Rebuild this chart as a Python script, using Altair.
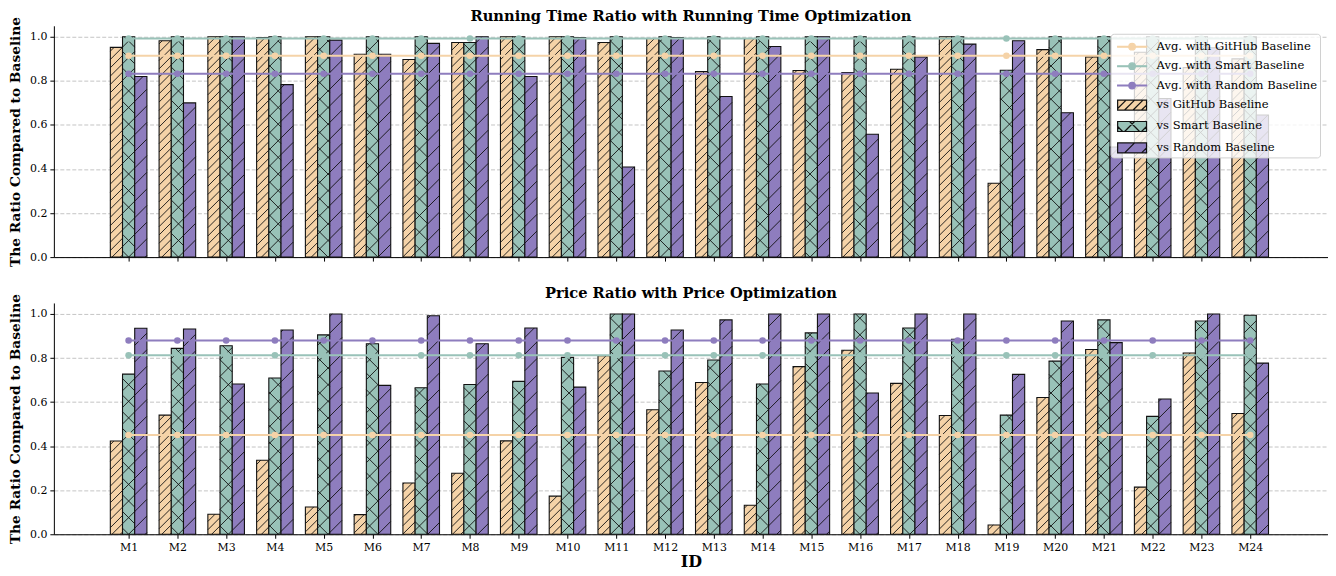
import altair as alt
import pandas as pd

# ---------------- data ----------------
ids = ["M1", "M2", "M3", "M4", "M5", "M6", "M7", "M8", "M9", "M10", "M11", "M12",
       "M13", "M14", "M15", "M16", "M17", "M18", "M19", "M20", "M21", "M22", "M23", "M24"]
series_names = ["GitHub", "Smart", "Random"]

rt_github = [0.952, 0.982, 1.0, 0.997, 1.0, 0.921, 0.897, 0.974, 1.0, 1.0, 0.974, 0.992,
             0.842, 0.992, 0.847, 0.838, 0.853, 1.0, 0.335, 0.942, 0.909, 0.93, 0.86, 0.90]
rt_smart = [1.0, 1.0, 1.0, 1.0, 1.0, 1.0, 1.0, 0.974, 1.0, 1.0, 1.0, 1.0,
            1.0, 1.0, 1.0, 1.0, 1.0, 1.0, 0.848, 1.0, 1.0, 1.0, 1.0, 1.0]
rt_random = [0.82, 0.70, 1.0, 0.783, 0.985, 0.921, 0.97, 1.0, 0.82, 0.997, 0.409, 0.997,
             0.729, 0.956, 1.0, 0.558, 0.909, 0.967, 0.982, 0.655, 0.50, 0.72, 0.95, 0.645]

pr_github = [0.423, 0.541, 0.091, 0.336, 0.124, 0.089, 0.233, 0.277, 0.424, 0.173, 0.811, 0.565,
             0.689, 0.132, 0.761, 0.835, 0.685, 0.539, 0.042, 0.621, 0.839, 0.214, 0.823, 0.548]
pr_smart = [0.727, 0.844, 0.856, 0.709, 0.905, 0.865, 0.665, 0.680, 0.694, 0.803, 1.0, 0.741,
            0.791, 0.682, 0.914, 1.0, 0.936, 0.885, 0.541, 0.786, 0.973, 0.535, 0.968, 0.994]
pr_random = [0.935, 0.932, 0.682, 0.927, 1.0, 0.676, 0.992, 0.865, 0.936, 0.668, 1.0, 0.927,
             0.973, 1.0, 1.0, 0.641, 1.0, 1.0, 0.726, 0.968, 0.870, 0.614, 1.0, 0.777]

legend_keys = ["Avg. with GitHub Baseline", "Avg. with Smart Baseline", "Avg. with Random Baseline",
               "vs GitHub Baseline", "vs Smart Baseline", "vs Random Baseline"]
y_ticks = [0.0, 0.2, 0.4, 0.6, 0.8, 1.0]


def long_table(g, s, r):
    rows = []
    for i, name in enumerate(ids):
        for ser, vals in zip(series_names, (g, s, r)):
            rows.append({"idx": i, "id": name, "series": ser, "value": vals[i]})
    return pd.DataFrame(rows)


df_rt = long_table(rt_github, rt_smart, rt_random)
df_pr = long_table(pr_github, pr_smart, pr_random)

# ---------------- style ----------------
FONT = "DejaVu Serif"
C_GH, C_SM, C_RD = "#F5D3A8", "#99C2B8", "#8E7DBE"
W, H = 1278, 232
XDOM = [-1.533, 24.595]
YDOM = [0.0, 1.05]
PX = W / (XDOM[1] - XDOM[0])
PY = H / (YDOM[1] - YDOM[0])
COLOR_EXPR = (f"datum.series === 'GitHub' ? '{C_GH}' : "
              f"datum.series === 'Smart' ? '{C_SM}' : '{C_RD}'")
XC_EXPR = "datum.idx + (indexof(['GitHub','Smart','Random'], datum.series) - 1) * 0.25"

xscale = alt.Scale(domain=XDOM, nice=False, zero=False)
yscale = alt.Scale(domain=YDOM, nice=False, zero=False)

label_arr = "[" + ",".join(f"'{t}'" for t in ids) + "]"


def x_axis(bottom):
    if bottom:
        return alt.Axis(values=list(range(len(ids))), labelExpr=f"{label_arr}[datum.value]",
                        title="ID", grid=False, tickSize=4, labelPadding=3,
                        titleFontSize=16, titlePadding=1, labelFontSize=11)
    return alt.Axis(values=list(range(len(ids))), labels=False, title=None, grid=False, tickSize=4)


y_axis = alt.Axis(values=y_ticks, format=".1f", title="The Ratio Compared to Baseline",
                  grid=True, tickSize=4, labelPadding=3, titlePadding=7)


def hatch_line_path(x0, x1, y0, y1, spacing, direction):
    segs = []
    if direction == "/":
        c = x0 + y0
        while c <= x1 + y1:
            xa, xb = max(x0, c - y1), min(x1, c - y0)
            if xb - xa > 0.05:
                segs.append(f"M{xa:.3f},{c - xa:.3f}L{xb:.3f},{c - xb:.3f}")
            c += spacing
    else:
        c = y0 - x1
        while c <= y1 - x0:
            xa, xb = max(x0, y0 - c), min(x1, y1 - c)
            if xb - xa > 0.05:
                segs.append(f"M{xa:.3f},{xa + c:.3f}L{xb:.3f},{xb + c:.3f}")
            c += spacing
    return "".join(segs)


SX0, SX1 = -0.6, 2.3
rect_path = f"M{SX0},-0.5L{SX1},-0.5L{SX1},0.5L{SX0},0.5Z"
cx = (SX0 + SX1) / 2
r = 0.33
line_path = (f"M{SX0},-0.04L{SX1},-0.04L{SX1},0.04L{SX0},0.04Z"
             f"M{cx + r:.3f},0A{r},{r} 0 1,1 {cx - r:.3f},0A{r},{r} 0 1,1 {cx + r:.3f},0Z")
gh_patch = rect_path + hatch_line_path(SX0, SX1, -0.5, 0.5, 0.85, "/")
sm_patch = rect_path + hatch_line_path(SX0, SX1, -0.5, 0.5, 1.7, "/") + hatch_line_path(SX0, SX1, -0.5, 0.5, 1.7, "\\")
rd_patch = rect_path + hatch_line_path(SX0, SX1, -0.5, 0.5, 1.7, "/")

leg_fills = [C_GH, C_SM, C_RD, C_GH, C_SM, C_RD]
leg_strokes = [C_GH, C_SM, C_RD, "#111111", "#111111", "#111111"]
leg_shapes = [line_path, line_path, line_path, gh_patch, sm_patch, rd_patch]


def panel(df, title, bottom, with_legend):
    xa = x_axis(bottom)
    base = alt.Chart(df).transform_calculate(xc=XC_EXPR, col=COLOR_EXPR)

    bars = base.transform_calculate(
        xl="datum.xc - 0.125", xr="datum.xc + 0.125", zero="0"
    ).mark_rect(stroke="#111111", strokeWidth=1.1).encode(
        x=alt.X("xl:Q", scale=xscale, axis=xa),
        x2="xr:Q",
        y=alt.Y("value:Q", scale=yscale, axis=y_axis),
        y2="zero:Q",
        color=alt.Color("col:N", scale=None),
    )

    hb = base.transform_calculate(
        x0p=f"(datum.xc - 0.125) * {PX}",
        x1p=f"(datum.xc + 0.125) * {PX}",
        hp=f"datum.value * {PY}",
        s="datum.series === 'GitHub' ? 8.33 : 16.67",
    )
    h1 = hb.transform_calculate(
        ks="sequence(ceil(-datum.x1p / datum.s), floor((datum.hp - datum.x0p) / datum.s) + 1)"
    ).transform_flatten(["ks"], as_=["k"]).transform_calculate(
        c="datum.k * datum.s"
    ).transform_calculate(
        ua="max(datum.x0p, -datum.c)", ub="min(datum.x1p, datum.hp - datum.c)"
    ).transform_filter("datum.ub - datum.ua > 0.3").transform_calculate(
        xa=f"datum.ua / {PX}", xb=f"datum.ub / {PX}",
        ya=f"(datum.ua + datum.c) / {PY}", yb=f"(datum.ub + datum.c) / {PY}",
    ).mark_rule(color="#111111", strokeWidth=0.9).encode(
        x=alt.X("xa:Q", scale=xscale, axis=xa), x2="xb:Q",
        y=alt.Y("ya:Q", scale=yscale, axis=y_axis), y2="yb:Q",
    )
    h2 = hb.transform_filter("datum.series === 'Smart'").transform_calculate(
        ks="sequence(ceil(datum.x0p / datum.s), floor((datum.x1p + datum.hp) / datum.s) + 1)"
    ).transform_flatten(["ks"], as_=["k"]).transform_calculate(
        c="datum.k * datum.s"
    ).transform_calculate(
        ua="max(datum.x0p, datum.c - datum.hp)", ub="min(datum.x1p, datum.c)"
    ).transform_filter("datum.ub - datum.ua > 0.3").transform_calculate(
        xa=f"datum.ua / {PX}", xb=f"datum.ub / {PX}",
        ya=f"(datum.c - datum.ua) / {PY}", yb=f"(datum.c - datum.ub) / {PY}",
    ).mark_rule(color="#111111", strokeWidth=0.9).encode(
        x=alt.X("xa:Q", scale=xscale, axis=xa), x2="xb:Q",
        y=alt.Y("ya:Q", scale=yscale, axis=y_axis), y2="yb:Q",
    )

    avg = alt.Chart(df).transform_joinaggregate(
        avg="mean(value)", groupby=["series"]
    ).transform_calculate(col=COLOR_EXPR)
    enc = dict(
        x=alt.X("idx:Q", scale=xscale, axis=xa),
        y=alt.Y("avg:Q", scale=yscale, axis=y_axis),
        color=alt.Color("col:N", scale=None),
        detail="series:N",
    )
    lines = avg.mark_line(strokeWidth=2).encode(**enc)
    pts = avg.mark_circle(size=44, opacity=1).encode(**enc)

    layers = [bars, h1, h2, lines, pts]
    if with_legend:
        leg = alt.Chart(df).transform_filter("false").transform_calculate(
            key="'x'"
        ).mark_point(filled=True, opacity=1, strokeWidth=1.2).encode(
            x=alt.X("idx:Q", scale=xscale, axis=xa),
            y=alt.Y("value:Q", scale=yscale, axis=y_axis),
            fill=alt.Fill("key:N", scale=alt.Scale(domain=legend_keys, range=leg_fills),
                          legend=alt.Legend(title=None)),
            stroke=alt.Stroke("key:N", scale=alt.Scale(domain=legend_keys, range=leg_strokes),
                              legend=alt.Legend(title=None)),
            shape=alt.Shape("key:N", scale=alt.Scale(domain=legend_keys, range=leg_shapes),
                            legend=alt.Legend(title=None)),
        )
        layers.append(leg)

    return alt.layer(*layers).properties(
        width=W, height=H,
        title=alt.TitleParams(title, font=FONT, fontSize=14.7, fontWeight="bold",
                              anchor="middle", offset=-7.5, color="black"),
    )


top = panel(df_rt, "Running Time Ratio with Running Time Optimization", False, True)
bottom = panel(df_pr, "Price Ratio with Price Optimization", True, False)

chart = alt.vconcat(top, bottom, spacing=19).resolve_scale(
    x="independent", y="independent", color="independent",
    fill="independent", stroke="independent", shape="independent",
).properties(
    padding={"left": 0, "top": 0, "right": 0, "bottom": 0}
).configure_view(stroke=None).configure_axis(
    labelFont=FONT, titleFont=FONT, labelFontSize=11, titleFontSize=13.8,
    titleFontWeight="bold", labelColor="black", titleColor="black",
    domainColor="black", tickColor="black", domainWidth=1,
    gridColor="#b5b5b5", gridDash=[4, 2], gridWidth=0.8,
).configure_legend(
    orient="top-right", offset=8, padding=2,
    fillColor="rgba(255,255,255,0.8)", strokeColor="#d0d0d0", cornerRadius=3,
    labelFont=FONT, labelFontSize=11.6, labelColor="black", labelOffset=22,
    labelLimit=400, symbolSize=400, symbolStrokeWidth=1.2, rowPadding=2.5,
    symbolOpacity=1,
)

chart.save("out.html", embed_options={"renderer": "svg", "actions": False})
